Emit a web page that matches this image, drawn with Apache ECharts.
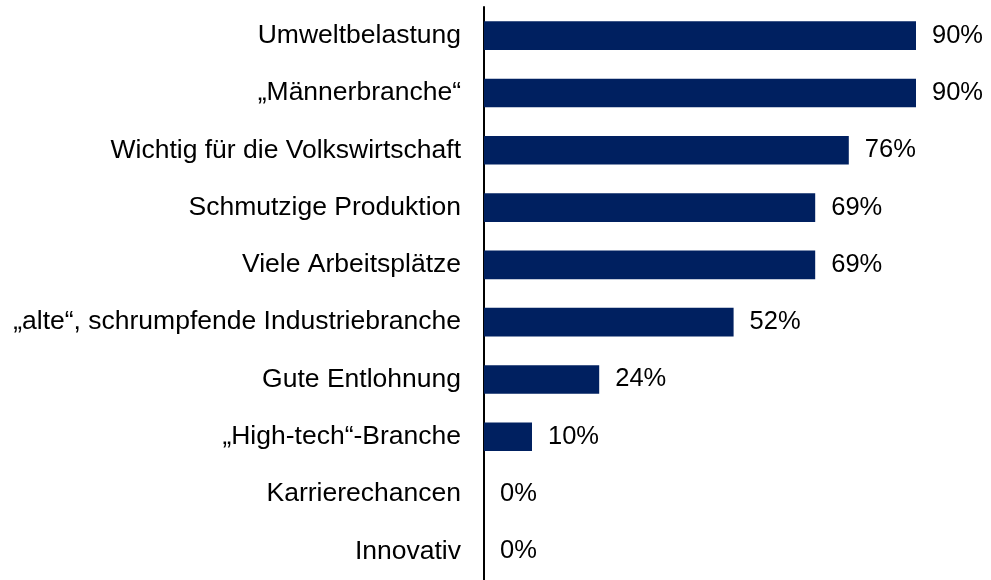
<!DOCTYPE html>
<html>
<head>
<meta charset="utf-8">
<script src="https://cdn.jsdelivr.net/npm/echarts@6/dist/echarts.min.js"></script>
<style>
  html, body { margin: 0; padding: 0; background: #fff; }
  #chart { width: 991px; height: 580px; }
</style>
</head>
<body>
<div id="chart"></div>
<script>
// Image attributes of the industry, share of respondents (%)
const categories = [
  'Umweltbelastung',
  '„Männerbranche“',
  'Wichtig für die Volkswirtschaft',
  'Schmutzige Produktion',
  'Viele Arbeitsplätze',
  '„alte“, schrumpfende Industriebranche',
  'Gute Entlohnung',
  '„High-tech“-Branche',
  'Karrierechancen',
  'Innovativ'
];
const values = [90, 90, 76, 69, 69, 52, 24, 10, 0, 0];

const FONT = '"Liberation Sans", Arial, sans-serif';

const chart = echarts.init(document.getElementById('chart'));
chart.setOption({
  animation: false,
  backgroundColor: '#ffffff',
  grid: { left: 484, top: 7, width: 480, height: 577, containLabel: false },
  xAxis: {
    type: 'value',
    min: 0,
    max: 100,
    show: false
  },
  yAxis: {
    type: 'category',
    data: categories,
    inverse: true,
    axisLine: { show: true, lineStyle: { color: '#000000', width: 2 } },
    axisTick: { show: false },
    splitLine: { show: false },
    axisLabel: {
      margin: 23,
      color: '#000000',
      fontFamily: FONT,
      fontSize: 26.5,
      padding: [4, 0, 0, 0]
    }
  },
  series: [{
    type: 'bar',
    data: values,
    barWidth: '50%',
    itemStyle: { color: '#002060' },
    label: {
      show: true,
      position: 'right',
      distance: 16,
      formatter: '{c}%',
      color: '#000000',
      fontFamily: FONT,
      fontSize: 25.5,
      padding: [3, 0, 0, 0]
    }
  }]
});
</script>
</body>
</html>
